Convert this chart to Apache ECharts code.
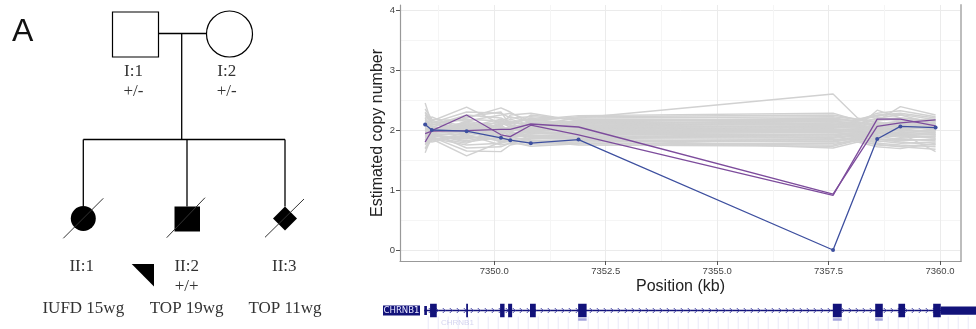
<!DOCTYPE html>
<html>
<head>
<meta charset="utf-8">
<script src="https://cdn.jsdelivr.net/npm/echarts@6/dist/echarts.min.js"></script>
<style>
  html, body { margin: 0; padding: 0; background: #fff; }
  #chart { width: 976px; height: 329px; }
</style>
</head>
<body>
<div id="chart"></div>
<script>
// probe positions (kb)
const probePos = [7348.45, 7348.60, 7349.38, 7350.15, 7350.36, 7350.82, 7351.89, 7357.60, 7358.59, 7359.11, 7359.90]
// gray reference samples have one extra probe at 7358.15
const grayPos = [7348.45, 7348.60, 7349.38, 7350.15, 7350.36, 7350.82, 7351.89, 7357.60, 7358.15, 7358.59, 7359.11, 7359.90]

const graySamples = [
  [2.45, 2.10, 2.05, 1.98, 2.00, 2.02, 2.05, 2.00, 2.02, 2.05, 2.00, 1.98],
  [1.62, 1.90, 1.85, 1.95, 1.92, 1.96, 1.95, 1.98, 1.97, 1.90, 1.95, 2.00],
  [2.30, 2.15, 2.38, 2.10, 2.15, 2.05, 2.12, 2.15, 2.10, 2.20, 2.25, 2.10],
  [1.75, 1.85, 1.57, 1.80, 1.85, 1.78, 1.80, 1.82, 1.88, 1.85, 1.80, 1.75],
  [2.10, 2.05, 2.20, 2.37, 2.30, 2.10, 2.08, 2.05, 2.08, 2.10, 2.15, 2.05],
  [1.90, 1.95, 1.70, 1.72, 1.78, 1.85, 1.90, 1.88, 1.92, 1.95, 1.90, 1.88],
  [2.20, 2.00, 2.10, 2.05, 2.25, 2.28, 2.15, 2.10, 2.05, 2.33, 2.20, 2.15],
  [1.85, 1.83, 1.95, 1.90, 1.80, 1.73, 1.77, 1.75, 1.85, 1.80, 1.85, 1.82],
  [2.00, 2.00, 2.05, 2.00, 2.05, 2.08, 2.20, 2.60, 2.20, 2.12, 2.10, 2.05],
  [2.05, 2.22, 1.98, 2.15, 2.10, 2.12, 2.10, 2.08, 2.12, 2.15, 2.39, 2.25],
  [1.95, 1.98, 2.00, 2.02, 1.95, 1.98, 2.00, 1.95, 2.00, 2.00, 1.95, 1.64],
  [2.15, 2.08, 2.25, 2.20, 2.12, 2.18, 2.20, 2.22, 2.18, 2.25, 2.28, 2.20],
  [1.80, 1.92, 1.80, 1.88, 1.90, 1.92, 1.85, 1.70, 1.80, 1.72, 1.69, 1.78],
  [2.02, 1.96, 2.12, 1.94, 2.02, 2.00, 2.02, 2.04, 2.03, 2.08, 2.05, 2.02],
  [1.98, 2.04, 1.92, 2.08, 1.98, 2.04, 1.98, 1.96, 1.98, 1.95, 2.00, 1.96],
  [2.25, 2.12, 2.30, 2.28, 2.20, 2.22, 2.18, 2.18, 2.15, 2.28, 2.32, 2.22],
  [1.70, 1.88, 1.65, 1.64, 1.75, 1.82, 1.84, 1.80, 1.86, 1.78, 1.75, 1.72],
  [2.08, 2.02, 2.08, 2.00, 2.06, 2.10, 2.06, 2.12, 2.08, 2.02, 2.08, 2.10],
  [1.92, 1.90, 1.88, 1.85, 1.88, 1.90, 1.92, 1.90, 1.94, 1.92, 1.88, 1.90],
  [2.35, 2.18, 2.15, 2.25, 2.28, 2.15, 2.14, 2.20, 2.15, 2.18, 2.20, 2.15],
  [1.88, 1.95, 2.05, 1.98, 1.92, 1.88, 1.88, 1.86, 1.90, 1.88, 1.92, 1.86],
  [2.12, 2.06, 1.95, 2.10, 2.18, 2.08, 2.10, 2.14, 2.12, 2.08, 2.12, 2.12],
  [1.78, 1.86, 1.75, 1.78, 1.82, 1.80, 1.82, 1.84, 1.84, 1.82, 1.78, 1.80],
  [2.00, 1.94, 2.15, 2.05, 1.96, 1.95, 1.96, 2.00, 1.96, 2.00, 2.02, 2.04],
  [2.18, 2.10, 2.00, 1.92, 2.00, 2.15, 2.22, 2.25, 2.18, 2.22, 2.15, 2.18],
  [1.85, 1.80, 1.92, 1.75, 1.78, 1.76, 1.78, 1.78, 1.82, 1.76, 1.72, 1.68],
  [2.05, 2.08, 2.22, 2.30, 2.08, 2.02, 2.04, 2.06, 2.06, 2.12, 2.06, 2.08],
  [1.95, 1.92, 1.82, 1.92, 2.05, 1.94, 1.94, 1.92, 1.95, 1.98, 1.92, 1.94],
  [2.28, 2.14, 2.08, 2.12, 2.05, 2.25, 2.16, 2.16, 2.14, 2.05, 2.10, 2.14],
  [1.68, 1.84, 1.90, 1.82, 1.80, 1.86, 1.86, 1.84, 1.88, 1.90, 1.84, 1.84],
  [1.97, 2.01, 1.96, 1.99, 2.03, 1.97, 2.01, 2.02, 2.00, 2.04, 1.98, 2.00],
  [2.11, 1.97, 2.03, 1.96, 1.98, 2.06, 2.04, 2.07, 2.05, 1.98, 2.02, 2.06],
  [1.90, 2.02, 2.10, 2.06, 1.94, 1.91, 1.93, 1.93, 1.96, 1.94, 1.97, 1.92],
  [2.03, 1.93, 1.93, 2.12, 2.08, 1.99, 1.99, 1.99, 2.01, 2.10, 2.09, 1.99],
  [1.83, 2.00, 2.02, 1.84, 1.86, 1.95, 1.97, 1.97, 1.97, 1.86, 1.82, 1.85],
  [2.22, 2.12, 2.18, 2.15, 2.22, 2.13, 2.13, 2.10, 2.09, 2.16, 2.18, 2.08],
  [1.93, 1.88, 1.78, 1.96, 1.99, 1.83, 1.83, 1.81, 1.86, 1.84, 1.86, 1.90],
  [2.07, 2.04, 2.00, 2.04, 2.00, 2.11, 2.08, 2.09, 2.07, 2.06, 2.04, 2.01],
  [1.99, 1.96, 2.07, 1.88, 1.93, 2.00, 2.00, 2.01, 1.99, 2.02, 2.00, 2.05],
  [2.14, 2.06, 1.94, 2.08, 2.14, 2.17, 2.24, 2.28, 2.16, 2.24, 2.26, 2.17],
  [1.76, 1.92, 1.86, 1.92, 1.88, 1.82, 1.75, 1.73, 1.83, 1.75, 1.73, 1.76],
  [2.04, 2.00, 2.13, 2.02, 2.04, 2.03, 2.11, 2.14, 2.10, 2.11, 2.13, 2.11],
  [1.94, 1.99, 1.90, 1.98, 1.90, 1.89, 1.89, 1.88, 1.91, 1.90, 1.94, 1.96],
  [2.17, 2.02, 2.05, 2.18, 2.10, 2.20, 2.06, 2.04, 2.05, 2.14, 2.07, 2.03],
  [1.87, 1.94, 1.98, 1.80, 1.84, 1.87, 1.95, 1.92, 1.93, 1.96, 1.90, 1.93]
]

const purpleA = [1.80, 1.99, 2.25, 1.92, 1.89, 2.08, 1.92, 0.91, 2.18, 2.18, 2.07]
const purpleB = [1.94, 1.98, 1.99, 2.01, 2.01, 2.10, 2.05, 0.93, 2.06, 2.12, 2.17]
const blueSample = [2.09, 2.00, 1.98, 1.87, 1.83, 1.78, 1.84, 0.00, 1.85, 2.06, 2.04]

const yTicks = [0, 1, 2, 3, 4]
const yMinor = [0.5, 1.5, 2.5, 3.5]
const xTicks = [7350, 7352.5, 7355, 7357.5, 7360]
const xMinor = [7348.75, 7351.25, 7353.75, 7356.25, 7358.75]

// CHRNB1 exons (kb)
const exonStart = [7348.43, 7348.56, 7349.37, 7350.13, 7350.31, 7350.80, 7351.88, 7357.59, 7358.54, 7359.06, 7359.84, 7360.01]
const exonEnd   = [7348.49, 7348.71, 7349.41, 7350.23, 7350.40, 7350.93, 7352.07, 7357.79, 7358.71, 7359.21, 7360.01, 7360.80]
const exonThick = [0.6, 0.9, 0.9, 0.9, 0.9, 0.9, 0.9, 0.9, 0.9, 0.9, 0.9, 0.55]

const chart = echarts.init(document.getElementById('chart'), null, { renderer: 'canvas' })

const pair = (xs, ys) => xs.map((x, i) => [x, ys[i]])

const series = []
graySamples.forEach((s, i) => {
  series.push({
    name: 'ref' + i,
    type: 'line',
    xAxisIndex: 0, yAxisIndex: 0,
    data: pair(grayPos, s),
    symbol: 'none',
    silent: true,
    lineStyle: { color: '#d1d1d1', width: 1.4 },
    z: 2
  })
})
series.push({
  type: 'line', data: pair(probePos, purpleA), symbol: 'none',
  lineStyle: { color: '#7d4c9c', width: 1.3 }, z: 3
})
series.push({
  type: 'line', data: pair(probePos, purpleB), symbol: 'none',
  lineStyle: { color: '#7d4c9c', width: 1.3 }, z: 3
})
series.push({
  type: 'line', data: pair(probePos, blueSample), symbol: 'circle', symbolSize: 4,
  itemStyle: { color: '#3d4f9f' },
  lineStyle: { color: '#3d4f9f', width: 1.3 }, z: 4
})

// intron line with chevrons
series.push({
  type: 'custom',
  coordinateSystem: 'cartesian2d',
  xAxisIndex: 2, yAxisIndex: 2,
  data: [[exonStart[0], exonEnd[exonEnd.length - 1]]],
  encode: { x: [0, 1] },
  clip: false,
  silent: true,
  renderItem: function (params, api) {
    const a = api.coord([api.value(0), 0.5])
    const b = api.coord([api.value(1), 0.5])
    const children = [{
      type: 'line',
      shape: { x1: a[0], y1: a[1], x2: b[0], y2: b[1] },
      style: { stroke: '#12127a', lineWidth: 1.4 }
    }]
    for (let x = a[0] + 6; x < b[0]; x += 7) {
      children.push({
        type: 'polyline',
        shape: { points: [[x - 1.5, a[1] - 2.5], [x + 1, a[1]], [x - 1.5, a[1] + 2.5]] },
        style: { stroke: '#3a3aa0', lineWidth: 0.9, fill: null }
      })
    }
    for (let x = a[0] + 4; x < b[0]; x += 10) {
      children.push({
        type: 'line',
        shape: { x1: x, y1: a[1] + 6, x2: x, y2: a[1] + 19 },
        style: { stroke: 'rgba(120,120,220,0.16)', lineWidth: 1 }
      })
    }
    return { type: 'group', children: children }
  },
  z: 2
})

// exons
series.push({
  type: 'custom',
  coordinateSystem: 'cartesian2d',
  xAxisIndex: 2, yAxisIndex: 2,
  data: exonStart.map((s, i) => [s, exonEnd[i], exonThick[i]]),
  encode: { x: [0, 1] },
  clip: false,
  silent: true,
  renderItem: function (params, api) {
    const a = api.coord([api.value(0), 0.5])
    const b = api.coord([api.value(1), 0.5])
    const h = api.size([0, api.value(2)])[1]
    const children = [{
      type: 'rect',
      shape: { x: a[0], y: a[1] - h / 2, width: Math.max(b[0] - a[0], 1.5), height: h },
      style: { fill: '#12127a' }
    }]
    if (params.dataIndex >= 6 && params.dataIndex <= 8) {
      children.push({
        type: 'rect',
        shape: { x: a[0], y: a[1] + h / 2 + 1, width: b[0] - a[0], height: 2.5 },
        style: { fill: '#a4a4dc' }
      })
    }
    return { type: 'group', children: children }
  },
  z: 3
})

const lab = { fontFamily: 'Liberation Serif', fontSize: 17, fill: '#333' }
const txt = (x, y, t) => ({
  type: 'text', x: x, y: y,
  style: Object.assign({ text: t, align: 'center', verticalAlign: 'middle' }, lab)
})
const ln = (x1, y1, x2, y2, w, c) => ({
  type: 'line', shape: { x1, y1, x2, y2 },
  style: { stroke: c || '#000', lineWidth: w || 1.3 }
})

const pedigree = [
  { type: 'text', x: 12, y: 32, style: { text: 'A', fontFamily: 'Liberation Sans', fontSize: 32, fill: '#111', verticalAlign: 'middle' } },
  { type: 'rect', shape: { x: 112.5, y: 12, width: 46, height: 45 }, style: { fill: '#fff', stroke: '#000', lineWidth: 1.2 } },
  { type: 'circle', shape: { cx: 229.5, cy: 34, r: 23 }, style: { fill: '#fff', stroke: '#000', lineWidth: 1.2 } },
  ln(158.5, 33.5, 206.5, 33.5),
  ln(181.7, 33.5, 181.7, 139.5),
  ln(83.3, 139.5, 285, 139.5),
  ln(83.3, 139.5, 83.3, 206),
  ln(187, 139.5, 187, 206.5),
  ln(285, 139.5, 285, 206.5),
  { type: 'circle', shape: { cx: 83.3, cy: 218.5, r: 12.5 }, style: { fill: '#000' } },
  { type: 'rect', shape: { x: 174.5, y: 206.5, width: 25.5, height: 25 }, style: { fill: '#000' } },
  { type: 'polygon', shape: { points: [[285, 206.5], [297, 218.5], [285, 230.5], [273, 218.5]] }, style: { fill: '#000' } },
  ln(63.3, 238.3, 103.3, 198.3, 1, '#333'),
  ln(166.7, 237.7, 205, 197.7, 1, '#333'),
  ln(265, 237.3, 304, 199, 1, '#333'),
  { type: 'polygon', shape: { points: [[131.7, 264], [154, 264], [154, 286.5]] }, style: { fill: '#000' } },
  txt(133.5, 72, 'I:1'), txt(133.5, 92, '+/-'),
  txt(226.7, 72, 'I:2'), txt(226.7, 92, '+/-'),
  txt(81.7, 267, 'II:1'), txt(186.7, 267, 'II:2'), txt(186.7, 287, '+/+'), txt(284.3, 267, 'II:3'),
  txt(83.3, 308.5, 'IUFD 15wg'), txt(186.7, 308.5, 'TOP 19wg'), txt(285, 308.5, 'TOP 11wg'),
  // gene label
  { type: 'rect', shape: { x: 383, y: 305.5, width: 37, height: 10 }, style: { fill: '#12127a' } },
  { type: 'text', x: 401.5, y: 310.8, style: { text: 'CHRNB1', fontFamily: 'Liberation Sans Narrow, DejaVu Sans Condensed', fontSize: 9.5, fill: '#e8e8ff', align: 'center', verticalAlign: 'middle' } },
  { type: 'text', x: 441, y: 323, style: { text: 'CHRNB1', fontFamily: 'Liberation Sans', fontSize: 8, fill: '#d6d6f0', verticalAlign: 'middle' } }
]

chart.setOption({
  animation: false,
  backgroundColor: '#fff',
  grid: [
    { left: 400, top: 5, width: 561, height: 256 },
    { left: 400, top: 303, width: 576, height: 15 }
  ],
  xAxis: [
    {
      type: 'value', gridIndex: 0, min: 7347.886, max: 7360.47,
      name: 'Position (kb)', nameLocation: 'middle', nameGap: 18, nameMoveOverlap: false,
      nameTextStyle: { fontFamily: 'Liberation Sans', fontSize: 16, color: '#222' },
      axisLine: { show: true, onZero: false, lineStyle: { color: '#999', width: 1.2 } },
      axisTick: { show: true, customValues: xTicks, length: 4, lineStyle: { color: '#555' } },
      axisLabel: { customValues: xTicks, formatter: v => v.toFixed(1), fontFamily: 'Liberation Sans', fontSize: 9.5, color: '#444', margin: 5 },
      splitLine: { show: true, lineStyle: { color: '#ebebeb', width: 1 } }
    },
    {
      type: 'value', gridIndex: 0, min: 7347.886, max: 7360.47, position: 'top',
      axisLine: { show: false }, axisLabel: { show: false },
      axisTick: { show: false, customValues: xMinor },
      splitLine: { show: true, lineStyle: { color: '#f5f5f5', width: 1 } }
    },
    {
      type: 'value', gridIndex: 1, min: 7347.886, max: 7360.80, show: false
    }
  ],
  yAxis: [
    {
      type: 'value', gridIndex: 0, min: -0.183, max: 4.083,
      name: 'Estimated copy number', nameLocation: 'middle', nameGap: 14, nameRotate: 90, nameMoveOverlap: false,
      nameTextStyle: { fontFamily: 'Liberation Sans', fontSize: 16, color: '#222' },
      axisLine: { show: true, onZero: false, lineStyle: { color: '#999', width: 1.2 } },
      axisTick: { show: true, customValues: yTicks, length: 4, lineStyle: { color: '#555' } },
      axisLabel: { customValues: yTicks, fontFamily: 'Liberation Sans', fontSize: 9.5, color: '#444', margin: 5 },
      splitLine: { show: true, lineStyle: { color: '#ebebeb', width: 1 } }
    },
    {
      type: 'value', gridIndex: 0, min: -0.183, max: 4.083, position: 'right',
      axisLine: { show: true, lineStyle: { color: '#bdbdbd', width: 2 } },
      axisLabel: { show: false },
      axisTick: { show: false, customValues: yMinor },
      splitLine: { show: true, lineStyle: { color: '#f5f5f5', width: 1 } }
    },
    {
      type: 'value', gridIndex: 1, min: 0, max: 1, show: false
    }
  ],
  graphic: pedigree,
  series: series
})
</script>
</body>
</html>
